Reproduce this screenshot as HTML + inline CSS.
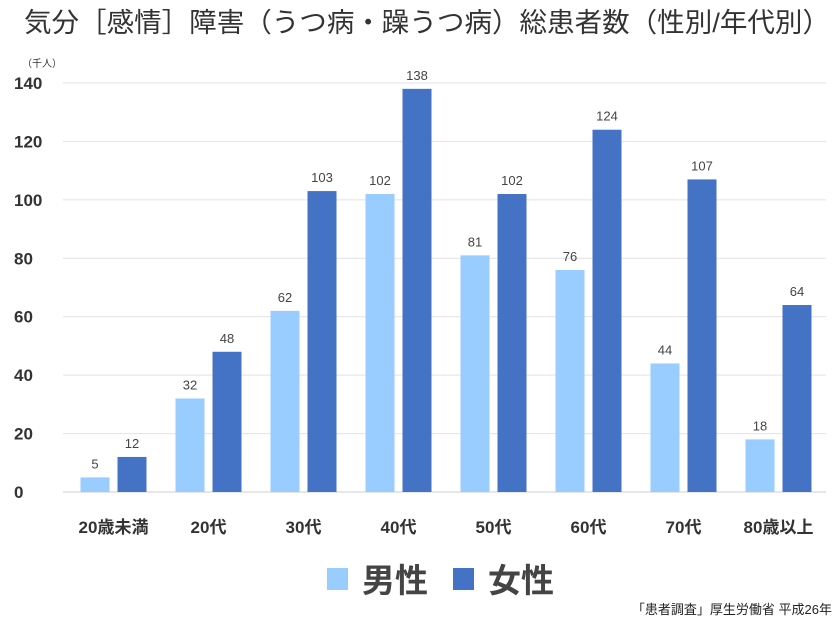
<!DOCTYPE html>
<html><head><meta charset="utf-8">
<style>
body{margin:0;background:#fff;}
svg{display:block;font-family:"Liberation Sans","Noto Sans CJK JP",sans-serif;}
</style></head>
<body>
<svg id="chart" width="840" height="629" viewBox="0 0 840 629">
<text x="24" y="32" textLength="806" lengthAdjust="spacingAndGlyphs" font-size="27" fill="#333">気分［感情］障害（うつ病・躁うつ病）総患者数（性別/年代別）</text>
<text x="22" y="67" font-size="10" fill="#333">（千人）</text>
<g id="grid"></g><g id="bars"></g><g id="labels"></g>
<g>
<rect x="327" y="568" width="21" height="22" fill="#99ccff"/>
<text x="362" y="592" font-size="33" font-weight="bold" fill="#444">男性</text>
<rect x="453" y="568" width="21" height="22" fill="#4472c4"/>
<text x="488" y="592" font-size="33" font-weight="bold" fill="#444">女性</text>
</g>
<text x="832" y="614" text-anchor="end" font-size="13" fill="#222">「患者調査」厚生労働省 平成26年</text>
</svg>
<script>
const categories=["20歳未満","20代","30代","40代","50代","60代","70代","80歳以上"];
const male=[5,32,62,102,81,76,44,18];
const female=[12,48,103,138,102,124,107,64];
const yTicks=[0,20,40,60,80,100,120,140];
const NS="http://www.w3.org/2000/svg";
const x0=66,x1=826,yZero=492,yTop=83,yMax=140;
const y=v=>yZero-(yZero-yTop)*v/yMax;
const band=(x1-x0)/categories.length;
const cx=i=>x0+band*(i+0.5);
function mk(tag,attrs,parent){const e=document.createElementNS(NS,tag);for(const k in attrs)e.setAttribute(k,attrs[k]);parent.appendChild(e);return e;}
const grid=document.getElementById('grid'),bars=document.getElementById('bars'),labels=document.getElementById('labels');
yTicks.forEach(t=>{
  const l=mk('line',{x1:63,x2:x1,y1:y(t),y2:y(t),stroke:t===0?'#cfcfcf':'#e2e2e2','stroke-width':1},grid);
  
  
  const tx=mk('text',{x:14,y:y(t)+6,'font-size':17,'font-weight':'bold',fill:'#333'},grid);
  tx.textContent=t;
  
  
});
const bw=29,gap=8;
categories.forEach((c,i)=>{
  const mx=cx(i)-gap/2-bw, fx=cx(i)+gap/2;
  const r1=mk('rect',{x:mx,y:y(male[i]),width:bw,height:yZero-y(male[i]),fill:'#99ccff'},bars);
  
  
  const r2=mk('rect',{x:fx,y:y(female[i]),width:bw,height:yZero-y(female[i]),fill:'#4472c4'},bars);
  
  
  const t1=mk('text',{x:mx+bw/2,y:y(male[i])-9,'text-anchor':'middle','font-size':13,fill:'#444'},labels);
  t1.textContent=male[i];
  
  
  const t2=mk('text',{x:fx+bw/2,y:y(female[i])-9,'text-anchor':'middle','font-size':13,fill:'#444'},labels);
  t2.textContent=female[i];
  
  
  const cl=mk('text',{x:cx(i),y:533,'text-anchor':'middle','font-size':17,'font-weight':'bold',fill:'#333'},labels);
  cl.textContent=c;
  
  
});
</script>
</body></html>
